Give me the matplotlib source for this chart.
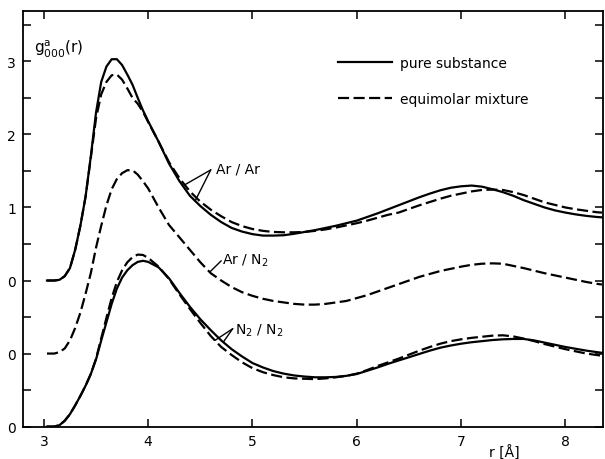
import numpy as np
import matplotlib
matplotlib.use("Agg")
import matplotlib.pyplot as plt

plt.rcParams['font.family'] = ['Liberation Sans Narrow', 'DejaVu Sans']
plt.rcParams['mathtext.default'] = 'regular'

# ---- data ----
r = [3.03, 3.05, 3.10, 3.15, 3.20, 3.25, 3.30, 3.35, 3.40, 3.45, 3.50, 3.55, 3.60, 3.65, 3.70,
     3.75, 3.80, 3.85, 3.90, 3.95, 4.00,
     4.10, 4.20, 4.30, 4.40, 4.50, 4.60, 4.70, 4.80, 4.90, 5.00, 5.10, 5.20, 5.30, 5.40, 5.50,
     5.60, 5.70, 5.80, 5.90, 6.00,
     6.10, 6.20, 6.30, 6.40, 6.50, 6.60, 6.70, 6.80, 6.90, 7.00, 7.10, 7.20, 7.30, 7.40, 7.50,
     7.60, 7.70, 7.80, 7.90, 8.00, 8.10, 8.20, 8.30, 8.35]

arar_pure = [0, 0, 0.0, 0.01, 0.06, 0.17, 0.42, 0.75, 1.15, 1.70, 2.30, 2.72, 2.93, 3.03, 3.03,
             2.95, 2.82, 2.68, 2.50, 2.33, 2.18,
             1.90, 1.60, 1.36, 1.16, 1.02, 0.90, 0.80, 0.72, 0.67, 0.635, 0.615, 0.615, 0.62, 0.64, 0.665,
             0.69, 0.72, 0.75, 0.785, 0.82,
             0.87, 0.92, 0.975, 1.03, 1.085, 1.14, 1.19, 1.235, 1.27, 1.29, 1.30, 1.285, 1.25, 1.21, 1.16,
             1.10, 1.05, 1.00, 0.96, 0.93, 0.905, 0.885, 0.87, 0.865]

arar_mix = [0, 0, 0.0, 0.01, 0.06, 0.17, 0.42, 0.75, 1.15, 1.68, 2.22, 2.55, 2.72, 2.81, 2.82,
            2.75, 2.63, 2.50, 2.42, 2.31, 2.17,
            1.90, 1.62, 1.40, 1.22, 1.08, 0.97, 0.88, 0.80, 0.745, 0.705, 0.68, 0.665, 0.66, 0.66, 0.665,
            0.68, 0.70, 0.725, 0.755, 0.785,
            0.82, 0.86, 0.90, 0.93, 0.98, 1.03, 1.075, 1.12, 1.16, 1.19, 1.22, 1.24, 1.245, 1.24, 1.21,
            1.17, 1.12, 1.07, 1.035, 1.00, 0.975, 0.955, 0.935, 0.93]

arn2_mix = [0, 0, 0.0, 0.02, 0.07, 0.18, 0.35, 0.56, 0.82, 1.10, 1.45, 1.75, 2.03, 2.25, 2.39,
            2.47, 2.51, 2.51, 2.45, 2.36, 2.26,
            2.00, 1.76, 1.59, 1.42, 1.25, 1.10, 1.00, 0.91, 0.84, 0.79, 0.75, 0.72, 0.70, 0.68, 0.67,
            0.67, 0.68, 0.70, 0.72, 0.76,
            0.80, 0.85, 0.90, 0.95, 1.00, 1.05, 1.09, 1.13, 1.16, 1.19, 1.215, 1.23, 1.235, 1.23, 1.20,
            1.17, 1.135, 1.10, 1.07, 1.04, 1.01, 0.98, 0.955, 0.945]

n2n2_pure = [0, 0, 0.0, 0.02, 0.08, 0.17, 0.29, 0.42, 0.56, 0.72, 0.92, 1.18, 1.43, 1.68, 1.89,
             2.04, 2.14, 2.21, 2.255, 2.27, 2.255,
             2.18, 2.03, 1.83, 1.64, 1.47, 1.32, 1.18, 1.06, 0.96, 0.87, 0.81, 0.76, 0.725, 0.70, 0.685,
             0.675, 0.675, 0.68, 0.695, 0.72,
             0.765, 0.81, 0.86, 0.905, 0.95, 0.995, 1.04, 1.08, 1.11, 1.135, 1.155, 1.17, 1.185, 1.195, 1.20,
             1.20, 1.18, 1.15, 1.12, 1.09, 1.065, 1.04, 1.02, 1.01]

n2n2_mix = [0, 0, 0.0, 0.02, 0.08, 0.17, 0.29, 0.42, 0.56, 0.72, 0.93, 1.21, 1.49, 1.76, 1.98,
            2.14, 2.25, 2.32, 2.355, 2.35, 2.31,
            2.19, 2.02, 1.81, 1.61, 1.42, 1.24, 1.09, 0.98, 0.88, 0.80, 0.745, 0.705, 0.675, 0.66, 0.655,
            0.65, 0.66, 0.675, 0.695, 0.725,
            0.775, 0.83, 0.88, 0.93, 0.985, 1.04, 1.09, 1.135, 1.17, 1.195, 1.215, 1.23, 1.245, 1.25, 1.235,
            1.205, 1.17, 1.13, 1.095, 1.06, 1.03, 1.00, 0.98, 0.97]

offsets = {'Ar/Ar': 2.0, 'Ar/N2': 1.0, 'N2/N2': 0.0}
ytick_pos = [0, 1, 2, 3, 4, 5]
ytick_lab = ['0', '0', '0', '1', '2', '3']
xtick_pos = [3, 4, 5, 6, 7, 8]

# ---- figure ----
W, H = 605, 460
fig = plt.figure(figsize=(W / 100, H / 100), dpi=100)
ax = fig.add_axes([23 / W, 1 - 427.6 / H, 580 / W, 415.6 / H])

r = np.array(r)
lw = 1.6
dash = (0, (5, 2))
ax.plot(r, np.array(arar_pure) + offsets['Ar/Ar'], color='black', lw=lw, label='pure substance')
ax.plot(r, np.array(arar_mix) + offsets['Ar/Ar'], color='black', lw=lw, ls=dash, label='equimolar mixture')
ax.plot(r, np.array(arn2_mix) + offsets['Ar/N2'], color='black', lw=lw, ls=dash)
ax.plot(r, np.array(n2n2_pure) + offsets['N2/N2'], color='black', lw=lw)
ax.plot(r, np.array(n2n2_mix) + offsets['N2/N2'], color='black', lw=lw, ls=dash)

ax.set_xlim(2.80, 8.36)
ax.set_ylim(0, 5.69)
ax.set_xticks(xtick_pos)
ax.set_xticklabels([str(v) for v in xtick_pos])
ax.set_yticks(ytick_pos)
ax.set_yticklabels(ytick_lab)
ax.set_yticks(np.arange(0.5, 5.6, 1.0), minor=True)
ax.tick_params(which='both', direction='in', top=True, right=True, length=6, width=1.1,
               labelsize=10, pad=5)
for s in ax.spines.values():
    s.set_linewidth(1.3)

# curve labels with pointer lines
def pt(x, ys, off):
    return (x, float(np.interp(x, r, ys)) + off)

kw = dict(fontsize=10, ha='left', va='center')
lp = dict(arrowstyle='-', color='black', lw=1.0, shrinkA=0, shrinkB=0)
tip = (4.60, 3.515)
ax.text(4.65, 3.53, 'Ar / Ar', **kw)
ax.annotate('', xy=pt(4.35, arar_mix, 2.0), xytext=tip, arrowprops=lp)
ax.annotate('', xy=pt(4.45, arar_pure, 2.0), xytext=tip, arrowprops=lp)

tip = (4.70, 2.27)
ax.text(4.71, 2.29, 'Ar / N$_{\\mathregular{2}}$', **kw)
ax.annotate('', xy=pt(4.59, arn2_mix, 1.0), xytext=tip, arrowprops=lp)

tip = (4.81, 1.34)
ax.text(4.83, 1.33, 'N$_{\\mathregular{2}}$ / N$_{\\mathregular{2}}$', **kw)
ax.annotate('', xy=pt(4.72, n2n2_pure, 0.0), xytext=tip, arrowprops=lp)
ax.annotate('', xy=pt(4.64, n2n2_mix, 0.0), xytext=tip, arrowprops=lp)

ax.text(2.91, 5.12, '$g^{a}_{000}(r)$', fontsize=11, ha='left', va='baseline')

leg = ax.legend(loc='upper left', bbox_to_anchor=((338 - 23) / 580, (427.6 - 57) / 415.6),
                frameon=False, fontsize=10, handlelength=3.9, handletextpad=0.6,
                labelspacing=1.6, borderpad=0, borderaxespad=0)

fig.text(504 / W, 1 - 453 / H, 'r [Å]', fontsize=10, ha='center', va='center')

fig.savefig('out.png', dpi=100)
